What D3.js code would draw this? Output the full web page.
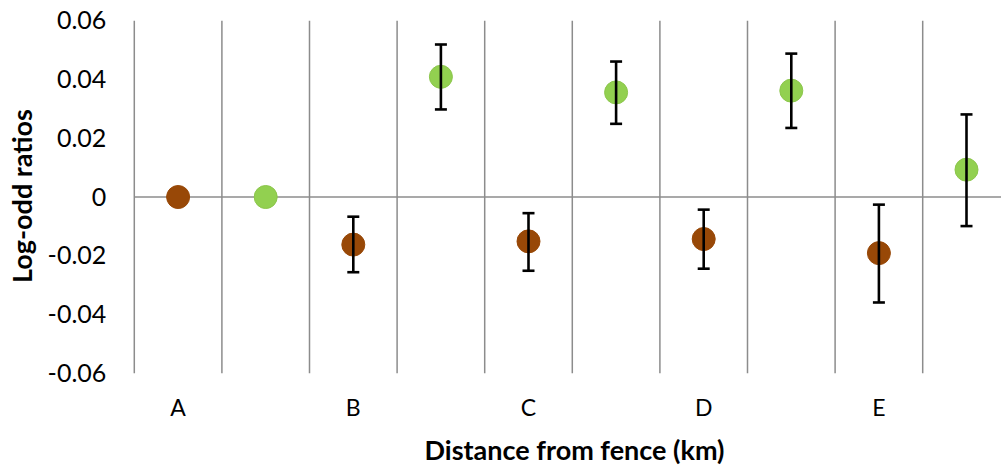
<!DOCTYPE html>
<html>
<head>
<meta charset="utf-8">
<script src="https://cdn.jsdelivr.net/npm/d3@7"></script>
<style>
  html, body { margin: 0; padding: 0; background: #fff; }
  svg { display: block; font-family: Lato, "Open Sans", sans-serif; }
</style>
</head>
<body>
<svg id="chart" width="1001" height="466"></svg>
<script>
// Distance classes; each class holds two series side by side
const groups = ["A", "B", "C", "D", "E"];
const series = ["brown", "green"];

// Log-odd ratio estimates and their interval bounds (null = no bar)
const brownValues = [0, -0.0162, -0.0151, -0.0143, -0.0191];
const brownLow    = [null, -0.0256, -0.0251, -0.0244, -0.0359];
const brownHigh   = [null, -0.0067, -0.0055, -0.0043, -0.0026];

const greenValues = [0, 0.0409, 0.0356, 0.0362, 0.0093];
const greenLow    = [null, 0.0298, 0.0249, 0.0235, -0.0099];
const greenHigh   = [null, 0.0519, 0.0461, 0.0488, 0.0281];

const yTicks = [-0.06, -0.04, -0.02, 0, 0.02, 0.04, 0.06];
const yTickLabels = ["-0.06", "-0.04", "-0.02", "0", "0.02", "0.04", "0.06"];

const colors = { brown: "#984807", green: "#92D050" };
const strokes = { brown: "#984807", green: "#8CC64C" };

const svg = d3.select("#chart");
const plot = { left: 134.3, right: 1010.3, top: 20.7, bottom: 373.3 };

// one slot per (group, series) pair
const slots = [];
groups.forEach((g, i) => {
  slots.push({ key: g + "-brown", group: g, s: "brown", v: brownValues[i], lo: brownLow[i], hi: brownHigh[i] });
  slots.push({ key: g + "-green", group: g, s: "green", v: greenValues[i], lo: greenLow[i], hi: greenHigh[i] });
});

const x = d3.scaleBand().domain(slots.map(d => d.key)).range([plot.left, plot.right]).padding(0);
const y = d3.scaleLinear().domain([-0.06, 0.06]).range([plot.bottom, plot.top]);

const grid = "#8c8c8c";

// vertical separators between slots (the first one doubles as the value axis)
svg.append("g").selectAll("line")
  .data(slots)
  .join("line")
  .attr("x1", d => x(d.key)).attr("x2", d => x(d.key))
  .attr("y1", plot.top).attr("y2", plot.bottom)
  .attr("stroke", grid).attr("stroke-width", 1.5);

// zero line serving as the category axis
svg.append("line")
  .attr("x1", plot.left).attr("x2", plot.right)
  .attr("y1", y(0)).attr("y2", y(0))
  .attr("stroke", grid).attr("stroke-width", 1.5);

// value axis labels
const yAxis = d3.axisLeft(y).tickValues(yTicks).tickSize(0).tickPadding(0)
  .tickFormat((d, i) => yTickLabels[i]);
const yg = svg.append("g").attr("transform", `translate(${plot.left - 28},0)`).call(yAxis);
yg.select(".domain").remove();
yg.selectAll("text").attr("font-size", 25).attr("fill", "#000")
  .attr("font-family", "Lato, sans-serif");

// group labels under the first slot of each group
svg.append("g").selectAll("text")
  .data(slots.filter(d => d.s === "brown"))
  .join("text")
  .attr("x", d => x(d.key) + x.bandwidth() / 2)
  .attr("y", 416)
  .attr("text-anchor", "middle")
  .attr("font-size", 23)
  .attr("fill", "#000")
  .text(d => d.group);

// markers
svg.append("g").selectAll("circle")
  .data(slots)
  .join("circle")
  .attr("cx", d => x(d.key) + x.bandwidth() / 2)
  .attr("cy", d => y(d.v))
  .attr("r", 11.5)
  .attr("fill", d => colors[d.s])
  .attr("stroke", d => strokes[d.s])
  .attr("stroke-width", 1);

// error bars drawn over the markers
const bars = svg.append("g").selectAll("g")
  .data(slots.filter(d => d.lo !== null))
  .join("g")
  .attr("stroke", "#000").attr("stroke-width", 2.6);
bars.append("line")
  .attr("x1", d => x(d.key) + x.bandwidth() / 2).attr("x2", d => x(d.key) + x.bandwidth() / 2)
  .attr("y1", d => y(d.lo)).attr("y2", d => y(d.hi));
[d => d.lo, d => d.hi].forEach(acc => {
  bars.append("line")
    .attr("x1", d => x(d.key) + x.bandwidth() / 2 - 6).attr("x2", d => x(d.key) + x.bandwidth() / 2 + 6)
    .attr("y1", d => y(acc(d))).attr("y2", d => y(acc(d)));
});

// axis titles
svg.append("text")
  .attr("x", 574.5)
  .attr("y", 460)
  .attr("text-anchor", "middle")
  .attr("font-size", 27).attr("font-weight", "bold").attr("fill", "#000")
  .text("Distance from fence (km)");

svg.append("text")
  .attr("transform", `translate(32,${(plot.top + plot.bottom) / 2 - 1}) rotate(-90)`)
  .attr("text-anchor", "middle")
  .attr("font-size", 27).attr("font-weight", "bold").attr("fill", "#000")
  .text("Log-odd ratios");
</script>
</body>
</html>
